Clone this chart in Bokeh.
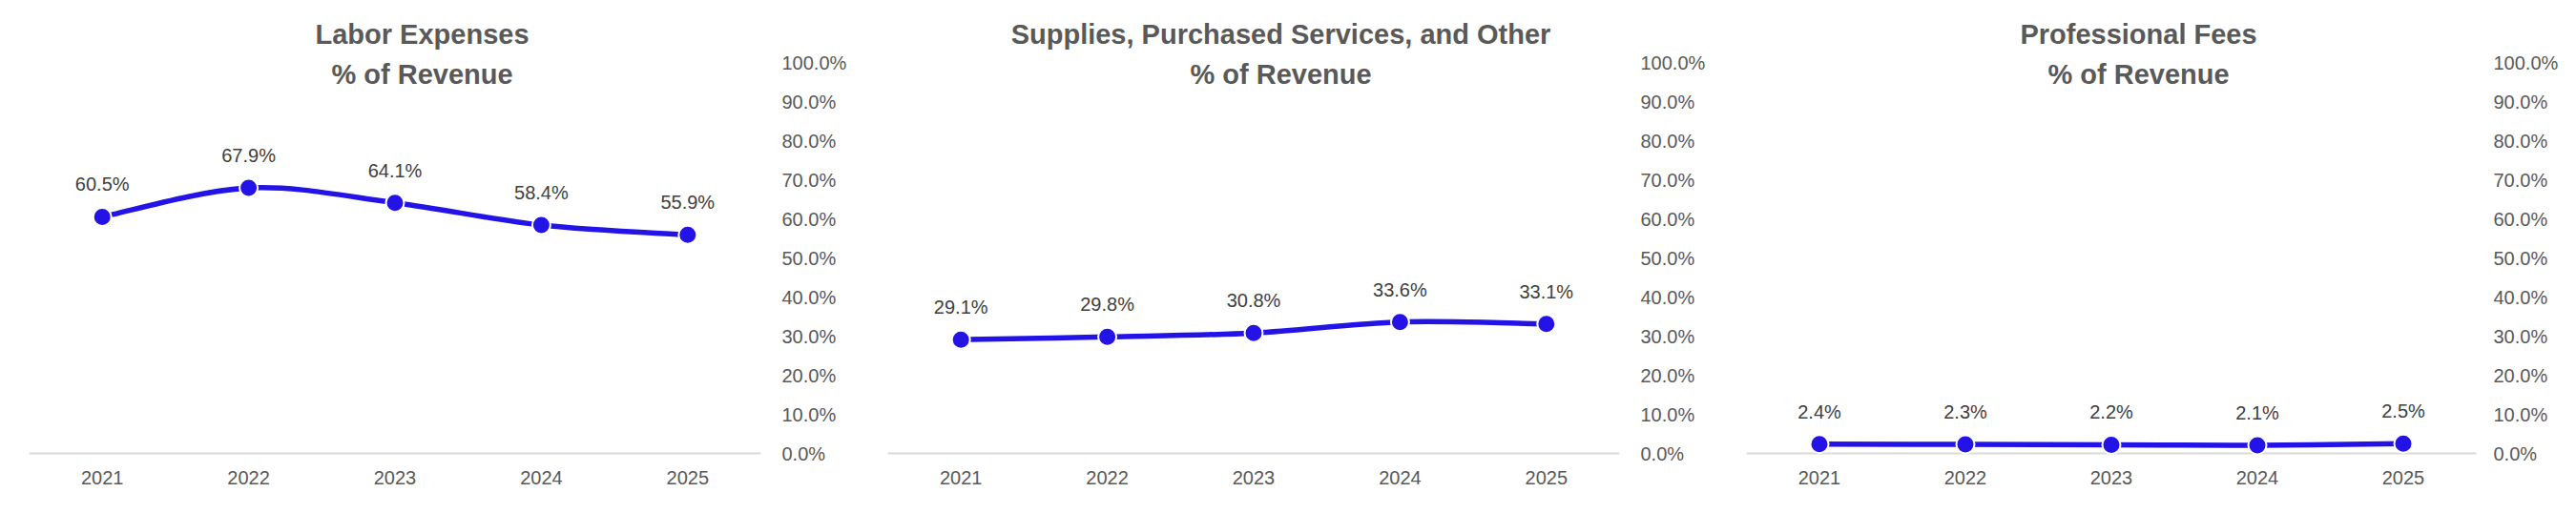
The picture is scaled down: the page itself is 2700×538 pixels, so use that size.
from bokeh.plotting import figure
from bokeh.layouts import row
from bokeh.models import Range1d, FixedTicker, PrintfTickFormatter, Label, Span, ColumnDataSource
from bokeh.embed import file_html
from bokeh.resources import INLINE
from bokeh.core.properties import value

# ---------------- data ----------------
years = ["2021", "2022", "2023", "2024", "2025"]
labor = [60.5, 67.9, 64.1, 58.4, 55.9]
supplies = [29.1, 29.8, 30.8, 33.6, 33.1]
professional = [2.4, 2.3, 2.2, 2.1, 2.5]
title_line1 = ["Labor Expenses", "Supplies, Purchased Services, and Other", "Professional Fees"]
title_line2 = ["% of Revenue", "% of Revenue", "% of Revenue"]
y_ticks = [0, 10, 20, 30, 40, 50, 60, 70, 80, 90, 100]

# ---------------- style ----------------
BLUE = "#2313E6"
AXIS_GREY = "#595959"
LABEL_DARK = "#404040"
FONT = "Liberation Sans"

PX_PER_UNIT = 4.1          # pixels per percentage point
FRAME_H = 468
ZERO_OFFSET = 3            # px between frame bottom and 0 line


def bezier_segments(xs, ys):
    """Catmull-Rom style smoothing (as used by spreadsheet 'smoothed line')."""
    n = len(xs)
    out = dict(x0=[], y0=[], x1=[], y1=[], cx0=[], cy0=[], cx1=[], cy1=[])
    for i in range(n - 1):
        xm, ym = (xs[i - 1], ys[i - 1]) if i > 0 else (xs[i], ys[i])
        xp, yp = (xs[i + 2], ys[i + 2]) if i + 2 < n else (xs[i + 1], ys[i + 1])
        out["x0"].append(xs[i]); out["y0"].append(ys[i])
        out["x1"].append(xs[i + 1]); out["y1"].append(ys[i + 1])
        out["cx0"].append(xs[i] + (xs[i + 1] - xm) / 6.0)
        out["cy0"].append(ys[i] + (ys[i + 1] - ym) / 6.0)
        out["cx1"].append(xs[i + 1] - (xp - xs[i]) / 6.0)
        out["cy1"].append(ys[i + 1] - (yp - ys[i]) / 6.0)
    return out


def panel(values, t1, t2, width, left, right, standoff):
    y0 = -ZERO_OFFSET / PX_PER_UNIT
    y1 = y0 + FRAME_H / PX_PER_UNIT
    p = figure(width=width, height=522, output_backend="svg", toolbar_location=None,
               x_range=Range1d(-0.5, len(years) - 0.5), y_range=Range1d(y0, y1),
               y_axis_location="right",
               min_border_left=left, min_border_right=right,
               min_border_top=10, min_border_bottom=44)
    p.outline_line_color = None
    p.grid.visible = False
    p.background_fill_color = "white"
    p.border_fill_color = "white"

    xs = list(range(len(years)))

    # x axis
    xa = p.xaxis[0]
    xa.ticker = FixedTicker(ticks=xs)
    xa.major_label_overrides = {i: y for i, y in enumerate(years)}
    xa.axis_line_color = None
    xa.major_tick_line_color = None
    xa.minor_tick_line_color = None
    xa.major_tick_out = 0
    xa.major_tick_in = 0
    xa.major_label_standoff = 15
    xa.major_label_text_font = FONT
    xa.major_label_text_font_size = "20px"
    xa.major_label_text_color = AXIS_GREY

    # y axis (right)
    ya = p.yaxis[0]
    ya.ticker = FixedTicker(ticks=y_ticks)
    ya.formatter = PrintfTickFormatter(format="%.1f%%")
    ya.axis_line_color = None
    ya.major_tick_line_color = None
    ya.minor_tick_line_color = None
    ya.major_tick_out = 0
    ya.major_tick_in = 0
    ya.major_label_standoff = standoff
    ya.major_label_text_font = FONT
    ya.major_label_text_font_size = "20px"
    ya.major_label_text_color = AXIS_GREY

    # baseline at 0
    p.add_layout(Span(location=0, dimension="width", line_color="#D9D9D9",
                      line_width=2, level="underlay"))

    # smoothed line
    seg = ColumnDataSource(bezier_segments(xs, values))
    p.bezier(x0="x0", y0="y0", x1="x1", y1="y1", cx0="cx0", cy0="cy0",
             cx1="cx1", cy1="cy1", source=seg, line_color=BLUE, line_width=5.5,
             line_cap="round")

    src = ColumnDataSource(dict(x=xs, y=values, lab=[f"{v:.1f}%" for v in values]))
    p.scatter("x", "y", source=src, size=19, fill_color=BLUE, line_color="white",
              line_width=2)
    p.text("x", "y", text="lab", source=src, y_offset=-34, text_align="center",
           text_baseline="middle", text_font=value(FONT), text_font_size="20px",
           text_color=LABEL_DARK)

    # title (two lines), centred on the chart panel
    frame_w = width - left - right
    title_dx = (450 - 38 - 767 / 2.0)
    ty1 = (483 - 43) / PX_PER_UNIT
    ty2 = (483 - 85) / PX_PER_UNIT
    for txt, ty in ((t1, ty1), (t2, ty2)):
        p.add_layout(Label(x=(len(years) - 1) / 2.0, y=ty, x_offset=title_dx, text=txt,
                           text_align="center", text_baseline="middle",
                           text_font=FONT, text_font_size="29px",
                           text_font_style="bold", text_color=AXIS_GREY))
    return p


p1 = panel(labor, title_line1[0], title_line2[0], 892, 30, 95, 22)
p2 = panel(supplies, title_line1[1], title_line2[1], 900, 38, 95, 22)
p3 = panel(professional, title_line1[2], title_line2[2], 892, 38, 87, 18)

layout = row(p1, p2, p3, spacing=0)
open("out.html", "w").write(file_html(layout, INLINE))
